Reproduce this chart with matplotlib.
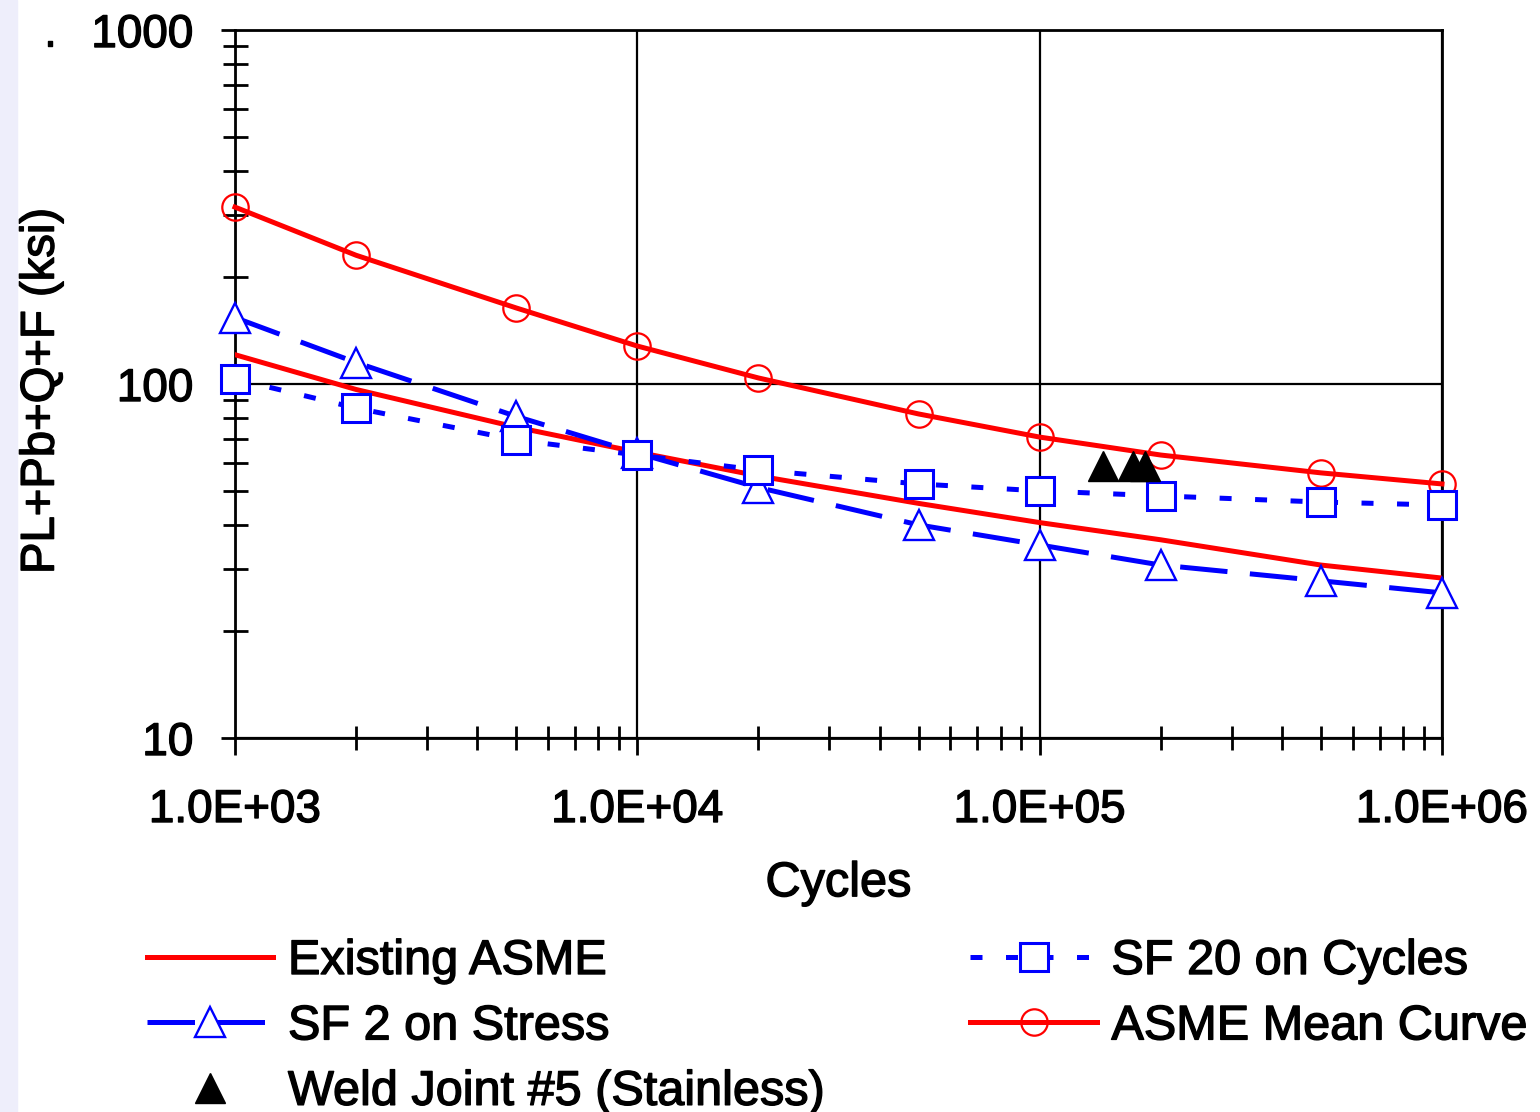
import matplotlib
matplotlib.use("Agg")
import matplotlib.pyplot as plt
import matplotlib.patheffects as pe
from matplotlib.ticker import LogLocator, NullFormatter
from matplotlib.patches import Rectangle

plt.rcParams.update({
    'font.family': ['Liberation Sans', 'DejaVu Sans'],
    'axes.linewidth': 2.0,
})

# ---- data ----
cycles = [1e3, 2e3, 5e3, 1e4, 2e4, 5e4, 1e5, 2e5, 5e5, 1e6]
existing_asme = [121, 96.5, 75.5, 64.2, 55, 46, 40.6, 36.3, 30.8, 28.3]
sf2_stress = [154, 115, 81, 63.8, 51, 40, 35.1, 30.8, 27.8, 25.7]
sf20_cycles = [103.3, 85.5, 69.5, 63, 57.1, 52.2, 49.9, 48.3, 46.4, 45.5]
asme_mean = [316, 231, 164, 128, 104, 82.3, 70.8, 63.0, 56.1, 52.2]
weld_cycles = [1.44e5, 1.71e5, 1.83e5]
weld_stress = [58.7, 58.7, 58.7]

x_ticks = [1e3, 1e4, 1e5, 1e6]
x_ticklabels = ['1.0E+03', '1.0E+04', '1.0E+05', '1.0E+06']
y_ticks = [10, 100, 1000]
y_ticklabels = ['10', '100', '1000']

RED = '#ff0000'
BLUE = '#0000ff'
LW = 3.6
HEAVY = [pe.withStroke(linewidth=1.0, foreground='black')]

fig = plt.figure(figsize=(15.4, 11.12), dpi=100)
# faint lavender strip on the left edge of the original picture
fig.patches.append(Rectangle((0, 0), 0.011, 1, transform=fig.transFigure,
                             color='#eeeefb', zorder=-1))
ax = fig.add_axes([235 / 1540, 1 - 738 / 1112, 1207 / 1540, 708 / 1112])

ax.plot(cycles, existing_asme, color=RED, lw=LW, label='Existing ASME', zorder=3)
ax.plot(cycles, sf2_stress, color=BLUE, lw=LW, ls=(0, (9.5, 4.5)),
        marker='^', ms=22, mfc='white', mec=BLUE, mew=1.7,
        label='SF 2 on Stress', zorder=4, clip_on=False)
ax.plot(weld_cycles, weld_stress, ls='none', marker='^', ms=22,
        color='black', label='Weld Joint #5 (Stainless)', zorder=5)
ax.plot(cycles, sf20_cycles, color=BLUE, lw=LW, ls=(0, (2.4, 4.7)),
        marker='s', ms=20, mfc='white', mec=BLUE, mew=2.2,
        label='SF 20 on Cycles', zorder=4, clip_on=False)
ax.plot(cycles, asme_mean, color=RED, lw=LW, marker='o', ms=19,
        mfc='none', mec=RED, mew=1.6, label='ASME Mean Curve', zorder=3,
        clip_on=False)

ax.set_xscale('log')
ax.set_yscale('log')
ax.set_xlim(1e3, 1e6)
ax.set_ylim(10, 1000)

ax.set_xticks(x_ticks, x_ticklabels)
ax.set_yticks(y_ticks, y_ticklabels)
ax.xaxis.set_minor_locator(LogLocator(base=10, subs=range(2, 10)))
ax.yaxis.set_minor_locator(LogLocator(base=10, subs=range(2, 10)))
ax.xaxis.set_minor_formatter(NullFormatter())
ax.yaxis.set_minor_formatter(NullFormatter())

ax.tick_params(axis='x', which='major', direction='out', length=12, width=2,
               labelsize=33, pad=24)
ax.tick_params(axis='x', which='minor', direction='inout', length=17, width=2)
ax.tick_params(axis='y', which='major', direction='out', length=10, width=2,
               labelsize=33, pad=20)
ax.tick_params(axis='y', which='minor', direction='inout', length=18, width=2)
for lab in ax.get_xticklabels() + ax.get_yticklabels():
    lab.set_path_effects(HEAVY)

ax.grid(True, which='major', color='black', lw=1.6)

ax.set_xlabel('Cycles', fontsize=35, path_effects=HEAVY)
ax.xaxis.set_label_coords(0.5, -0.174)
ax.set_ylabel('PL+Pb+Q+F (ksi)', fontsize=34, path_effects=HEAVY)
ax.yaxis.set_label_coords(-0.142, 0.49)

fig.text(50 / 1540, 1 - 46 / 1112, '.', fontsize=33, ha='center', va='baseline',
         path_effects=HEAVY)

leg = fig.legend(loc='upper left', bbox_to_anchor=(147 / 1540, 1 - 939 / 1112),
                 ncol=2, frameon=False, fontsize=35, handlelength=2.6,
                 handletextpad=0.3, columnspacing=3.0, labelspacing=0.42,
                 borderpad=0, borderaxespad=0)
for t in leg.get_texts():
    t.set_path_effects(HEAVY)

fig.savefig('out.png', dpi=100)
